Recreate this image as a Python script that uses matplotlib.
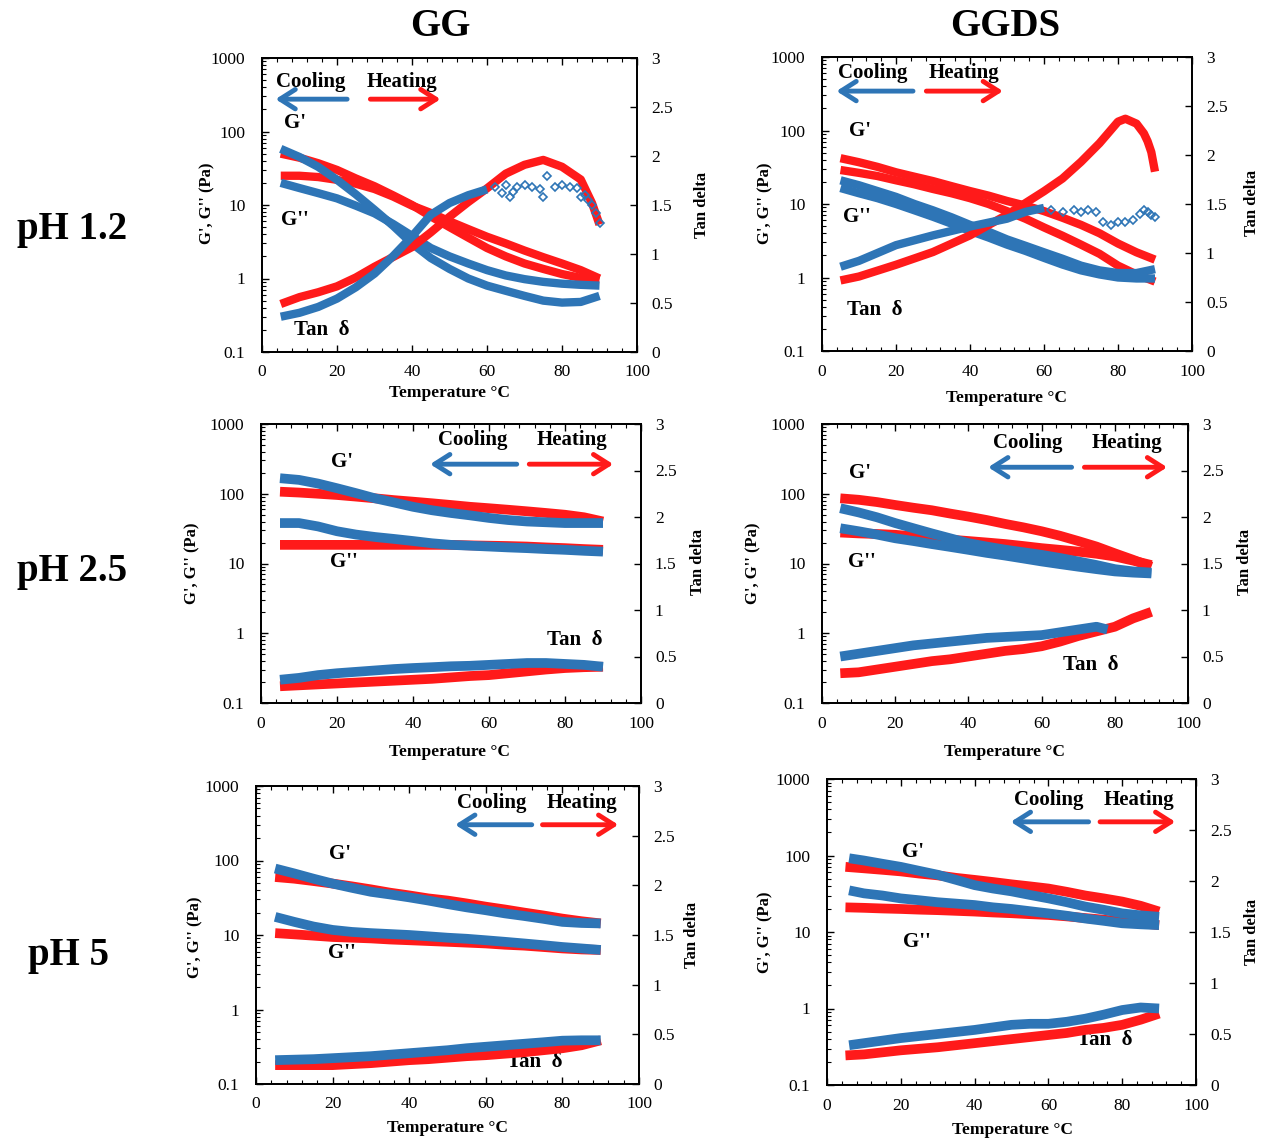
import matplotlib
matplotlib.use("Agg")
import matplotlib.pyplot as plt
from matplotlib.ticker import LogLocator, NullFormatter, MultipleLocator

plt.rcParams['font.family'] = ['Liberation Serif', 'DejaVu Serif']

W, H = 1272, 1142
BLUE = '#2e75b6'
RED = '#ff1a1a'

# ---------------- data ----------------
T = [5, 10, 15, 20, 25, 30, 35, 40, 45, 50, 55, 60, 65, 70, 75, 80, 85, 90]

# GG, pH 1.2
gg12_cool_Gp = [58, 45, 33, 22, 14, 8.6, 5.2, 3.0, 1.9, 1.35, 1.0, 0.8, 0.68, 0.58, 0.5, 0.47, 0.48, 0.58]
gg12_cool_Gpp = [20, 17, 14.5, 12.3, 9.8, 7.7, 5.5, 3.8, 2.6, 2.0, 1.6, 1.3, 1.1, 0.98, 0.9, 0.85, 0.82, 0.8]
gg12_heat_Gp = [50, 44, 37, 30, 23, 18, 13.5, 10, 7.0, 5.0, 3.6, 2.6, 2.0, 1.6, 1.35, 1.15, 1.02, 0.95]
gg12_heat_Gpp = [25, 25, 24, 22, 19.5, 16.5, 13, 9.8, 7.8, 6.0, 4.7, 3.7, 3.0, 2.4, 1.95, 1.6, 1.3, 1.0]
gg12_heat_tan_T = [5, 10, 15, 20, 25, 30, 35, 40, 45, 50, 55, 60, 65, 70, 75, 80, 85, 88, 90]
gg12_heat_tan = [0.49, 0.56, 0.61, 0.67, 0.76, 0.87, 0.97, 1.07, 1.22, 1.38, 1.53, 1.67, 1.82, 1.91, 1.96, 1.89, 1.76, 1.52, 1.30]
gg12_cool_tan_T = [5, 10, 15, 20, 25, 30, 35, 40, 45, 50, 55, 60]
gg12_cool_tan = [0.36, 0.40, 0.46, 0.545, 0.66, 0.80, 0.98, 1.18, 1.40, 1.52, 1.60, 1.66]
gg12_cool_tan_pts_T = [62, 64, 65, 66, 67, 68, 70, 72, 74, 75, 76, 78, 80, 82, 84, 85, 86, 87, 88, 89, 90]
gg12_cool_tan_pts = [1.68, 1.62, 1.70, 1.58, 1.63, 1.68, 1.70, 1.68, 1.66, 1.58, 1.80, 1.68, 1.70, 1.68, 1.67, 1.58, 1.60, 1.55, 1.50, 1.42, 1.32]

# GGDS, pH 1.2
ggds12_heat_Gp = [42, 37, 32, 27, 23.5, 20.5, 17.5, 15, 13, 11, 9.5, 8, 6.5, 5.2, 4, 2.9, 2.2, 1.75]
ggds12_heat_Gpp = [29, 26.5, 24, 21, 18.5, 16, 14, 12, 10, 8, 6.3, 4.8, 3.7, 2.8, 2.1, 1.45, 1.1, 0.88]
ggds12_cool_Gp = [21, 18, 15, 12.5, 10, 8.2, 6.6, 5.2, 4.2, 3.3, 2.7, 2.2, 1.8, 1.45, 1.25, 1.15, 1.15, 1.3]
ggds12_cool_Gpp = [16.5, 14, 12, 10, 8.2, 6.7, 5.4, 4.3, 3.5, 2.8, 2.3, 1.85, 1.5, 1.25, 1.1, 1.0, 0.97, 0.97]
ggds12_heat_tan_T = [5, 10, 20, 30, 40, 50, 55, 60, 65, 70, 75, 80, 82, 85, 87, 88, 89, 90]
ggds12_heat_tan = [0.72, 0.76, 0.88, 1.01, 1.18, 1.39, 1.51, 1.63, 1.76, 1.93, 2.12, 2.34, 2.37, 2.32, 2.22, 2.14, 2.03, 1.83]
ggds12_cool_tan_T = [5, 10, 20, 30, 40, 50, 55, 60]
ggds12_cool_tan = [0.86, 0.92, 1.08, 1.18, 1.27, 1.35, 1.42, 1.46]
ggds12_cool_tan_pts_T = [62, 65, 68, 70, 72, 74, 76, 78, 80, 82, 84, 86, 87, 88, 89, 90]
ggds12_cool_tan_pts = [1.44, 1.42, 1.44, 1.42, 1.44, 1.42, 1.32, 1.29, 1.32, 1.32, 1.34, 1.40, 1.44, 1.42, 1.39, 1.37]

# GG, pH 2.5
gg25_cool_Gp = [167, 158, 140, 120, 102, 86, 75, 65, 58, 53, 49, 45, 42, 40, 39, 38, 38, 38]
gg25_heat_Gp = [107, 104, 100, 96, 91, 86, 81, 77, 73, 69, 65, 62, 59, 56, 53, 50, 46, 40]
gg25_cool_Gpp = [38, 38, 34, 29, 26, 24, 22.5, 21, 19.5, 18.5, 18, 17.5, 17, 16.6, 16.1, 15.7, 15.2, 14.8]
gg25_heat_Gpp = [18.5, 18.5, 18.5, 18.5, 18.5, 18.5, 18.5, 18.5, 18.5, 18.5, 18.2, 18, 17.8, 17.5, 17, 16.6, 16.1, 15.7]
gg25_cool_tan = [0.25, 0.27, 0.30, 0.32, 0.335, 0.35, 0.365, 0.376, 0.385, 0.395, 0.40, 0.41, 0.42, 0.43, 0.43, 0.42, 0.41, 0.39]
gg25_heat_tan = [0.18, 0.19, 0.20, 0.21, 0.22, 0.23, 0.24, 0.25, 0.26, 0.275, 0.29, 0.30, 0.32, 0.34, 0.36, 0.376, 0.385, 0.39]

# GGDS, pH 2.5
ggds25_heat_Gp = [86, 82, 76, 69, 63, 58, 52, 47, 42, 37, 33, 29, 25, 21, 17.5, 14, 11.3, 9]
ggds25_heat_Gpp = [27.8, 27, 26.5, 25.8, 24.5, 23.5, 22, 21, 20, 19, 17.8, 16.6, 15.7, 14.8, 13.8, 12.6, 11, 9.5]
ggds25_cool_Gp = [62, 54, 46, 38, 32, 27, 23, 19.6, 17.5, 15.8, 14.5, 13.3, 12, 10.7, 9.5, 8.3, 7.7, 7.4]
ggds25_cool_Gpp = [32, 29, 26, 23, 21, 19, 17.3, 15.7, 14.2, 13, 11.8, 10.7, 9.8, 9.0, 8.3, 7.7, 7.4, 7.2]
ggds25_cool_tan_T = [5, 10, 15, 20, 25, 30, 35, 40, 45, 50, 55, 60, 65, 70, 75, 78]
ggds25_cool_tan = [0.50, 0.53, 0.56, 0.59, 0.62, 0.64, 0.66, 0.68, 0.70, 0.71, 0.72, 0.73, 0.76, 0.79, 0.82, 0.79]
ggds25_heat_tan = [0.32, 0.33, 0.36, 0.39, 0.42, 0.45, 0.47, 0.50, 0.53, 0.56, 0.58, 0.61, 0.66, 0.72, 0.77, 0.82, 0.91, 0.98]

# GG, pH 5
gg5_cool_Gp = [78, 67, 57, 49, 43, 38, 35, 32, 29, 26, 23.5, 21.5, 19.5, 18, 16.5, 15, 14.5, 14.3]
gg5_heat_Gp = [60, 57, 53, 49, 45, 41, 37, 34, 31, 29, 26.5, 24, 22, 20, 18.3, 16.6, 15.3, 14.3]
gg5_cool_Gpp = [17.5, 15, 13, 11.7, 11, 10.6, 10.3, 10, 9.6, 9.2, 8.9, 8.5, 8.1, 7.7, 7.3, 6.9, 6.6, 6.3]
gg5_heat_Gpp = [10.6, 10.2, 9.8, 9.4, 9.2, 9.0, 8.7, 8.5, 8.3, 8.1, 7.9, 7.7, 7.4, 7.2, 6.9, 6.6, 6.4, 6.3]
gg5_cool_tan = [0.24, 0.245, 0.25, 0.26, 0.27, 0.28, 0.295, 0.31, 0.325, 0.34, 0.36, 0.375, 0.39, 0.405, 0.42, 0.436, 0.44, 0.44]
gg5_heat_tan = [0.19, 0.19, 0.19, 0.19, 0.20, 0.21, 0.225, 0.24, 0.25, 0.265, 0.28, 0.29, 0.305, 0.32, 0.34, 0.36, 0.39, 0.44]

# GGDS, pH 5
ggds5_cool_T = [6, 10, 15, 20, 25, 30, 35, 40, 45, 50, 55, 60, 65, 70, 75, 80, 85, 90]
ggds5_cool_Gp = [92, 86, 78, 71, 63, 56, 48, 41, 37, 34, 30.5, 27.5, 24.5, 21.5, 19.5, 17.5, 16.5, 15.8]
ggds5_heat_Gp = [71, 68, 65, 62, 58, 55, 51, 48, 45, 42, 39.5, 37, 33.5, 30, 27.5, 25, 22, 18.5]
ggds5_cool_Gpp = [35, 32, 30, 27.5, 26, 24.5, 23.5, 22.5, 21, 20, 18.7, 17.5, 16.3, 15, 14, 13, 12.6, 12.3]
ggds5_heat_Gpp = [21, 20.7, 20.3, 20, 19.6, 19.3, 18.9, 18.5, 18, 17.6, 17.1, 16.7, 16, 15.2, 14.5, 13.7, 13, 12.3]
ggds5_cool_tan = [0.39, 0.41, 0.435, 0.46, 0.48, 0.50, 0.52, 0.54, 0.565, 0.59, 0.60, 0.60, 0.62, 0.65, 0.69, 0.735, 0.76, 0.75]
ggds5_heat_tan = [0.29, 0.30, 0.32, 0.34, 0.355, 0.37, 0.39, 0.41, 0.43, 0.45, 0.47, 0.49, 0.51, 0.54, 0.56, 0.59, 0.64, 0.70]

col_titles = ['GG', 'GGDS']
row_titles = ['pH 1.2', 'pH 2.5', 'pH 5']
left_ticks = [0.1, 1, 10, 100, 1000]
left_ticklabels = ['0.1', '1', '10', '100', '1000']
right_ticks = [0, 0.5, 1, 1.5, 2, 2.5, 3]
right_ticklabels = ['0', '0.5', '1', '1.5', '2', '2.5', '3']

# ---------------- layout (pixels) ----------------
panels = [
    dict(rect=(262, 58, 637, 352), xl=(450, 393), yl=(207, 203), rl=(702, 205),
         cool=[(T, gg12_cool_Gp), (T, gg12_cool_Gpp)], heat=[(T, gg12_heat_Gp), (T, gg12_heat_Gpp)],
         cool_tan=(gg12_cool_tan_T, gg12_cool_tan), heat_tan=(gg12_heat_tan_T, gg12_heat_tan),
         pts=(gg12_cool_tan_pts_T, gg12_cool_tan_pts), lw=6,
         cool_txt=(0.129, 0.92), heat_txt=(0.373, 0.92), barr=(0.227, 0.036, 0.86), rarr=(0.289, 0.476, 0.86),
         gp=(0.089, 0.78), gpp=(0.089, 0.449), tan=(0.16, 0.074)),
    dict(rect=(822, 57, 1192, 351), xl=(1007, 398), yl=(765, 203), rl=(1252, 203),
         cool=[(T, ggds12_cool_Gp), (T, ggds12_cool_Gpp)], heat=[(T, ggds12_heat_Gp), (T, ggds12_heat_Gpp)],
         cool_tan=(ggds12_cool_tan_T, ggds12_cool_tan), heat_tan=(ggds12_heat_tan_T, ggds12_heat_tan),
         pts=(ggds12_cool_tan_pts_T, ggds12_cool_tan_pts), lw=6,
         cool_txt=(0.138, 0.946), heat_txt=(0.383, 0.946), barr=(0.246, 0.039, 0.884), rarr=(0.282, 0.489, 0.884),
         gp=(0.102, 0.75), gpp=(0.093, 0.456), tan=(0.142, 0.138)),
    dict(rect=(261, 424, 641, 703), xl=(450, 752), yl=(192, 563), rl=(698, 562),
         cool=[(T, gg25_cool_Gp), (T, gg25_cool_Gpp)], heat=[(T, gg25_heat_Gp), (T, gg25_heat_Gpp)],
         cool_tan=(T, gg25_cool_tan), heat_tan=(T, gg25_heat_tan), pts=None, lw=7,
         cool_txt=(0.556, 0.943), heat_txt=(0.819, 0.943), barr=(0.673, 0.445, 0.856), rarr=(0.706, 0.927, 0.856),
         gp=(0.212, 0.865), gpp=(0.217, 0.507), tan=(0.826, 0.227)),
    dict(rect=(822, 424, 1188, 703), xl=(1005, 752), yl=(753, 563), rl=(1245, 562),
         cool=[(T, ggds25_cool_Gp), (T, ggds25_cool_Gpp)], heat=[(T, ggds25_heat_Gp), (T, ggds25_heat_Gpp)],
         cool_tan=(ggds25_cool_tan_T, ggds25_cool_tan), heat_tan=(T, ggds25_heat_tan), pts=None, lw=7,
         cool_txt=(0.561, 0.931), heat_txt=(0.833, 0.931), barr=(0.682, 0.454, 0.845), rarr=(0.717, 0.943, 0.845),
         gp=(0.103, 0.823), gpp=(0.108, 0.507), tan=(0.733, 0.137)),
    dict(rect=(256, 786, 639, 1084), xl=(448, 1128), yl=(195, 937), rl=(692, 935),
         cool=[(T, gg5_cool_Gp), (T, gg5_cool_Gpp)], heat=[(T, gg5_heat_Gp), (T, gg5_heat_Gpp)],
         cool_tan=(T, gg5_cool_tan), heat_tan=(T, gg5_heat_tan), pts=None, lw=7,
         cool_txt=(0.615, 0.944), heat_txt=(0.85, 0.944), barr=(0.72, 0.52, 0.87), rarr=(0.748, 0.946, 0.87),
         gp=(0.219, 0.773), gpp=(0.224, 0.438), tan=(0.728, 0.075)),
    dict(rect=(827, 779, 1196, 1085), xl=(1012, 1130), yl=(765, 932), rl=(1252, 932),
         cool=[(ggds5_cool_T, ggds5_cool_Gp), (ggds5_cool_T, ggds5_cool_Gpp)],
         heat=[(T, ggds5_heat_Gp), (T, ggds5_heat_Gpp)],
         cool_tan=(ggds5_cool_T, ggds5_cool_tan), heat_tan=(T, ggds5_heat_tan), pts=None, lw=7,
         cool_txt=(0.6, 0.931), heat_txt=(0.846, 0.931), barr=(0.709, 0.498, 0.86), rarr=(0.74, 0.944, 0.86),
         gp=(0.233, 0.763), gpp=(0.243, 0.468), tan=(0.754, 0.147)),
]

fig = plt.figure(figsize=(W / 100, H / 100), dpi=100)


def fx(x):
    return x / W


def fy(y):
    return 1 - y / H


for p in panels:
    x0, y0, x1, y1 = p['rect']
    ax = fig.add_axes([fx(x0), fy(y1), (x1 - x0) / W, (y1 - y0) / H])
    ax2 = ax.twinx()

    ax.set_yscale('log')
    ax.set_ylim(0.1, 1000)
    ax.set_xlim(0, 100)
    ax2.set_ylim(0, 3)

    lw = p['lw']
    for tt, vv in p['heat']:
        ax.plot(tt, vv, color=RED, lw=lw, solid_capstyle='butt')
    for tt, vv in p['cool']:
        ax.plot(tt, vv, color=BLUE, lw=lw, solid_capstyle='butt')
    ax2.plot(p['heat_tan'][0], p['heat_tan'][1], color=RED, lw=lw, solid_capstyle='butt')
    ax2.plot(p['cool_tan'][0], p['cool_tan'][1], color=BLUE, lw=lw, solid_capstyle='butt')
    if p['pts'] is not None:
        ax2.plot(p['pts'][0], p['pts'][1], ls='none', marker='D', ms=4.5, mfc='none', mec=BLUE, mew=1.2)

    ax.set_yticks(left_ticks)
    ax.set_yticklabels(left_ticklabels)
    ax.yaxis.set_minor_locator(LogLocator(base=10, subs=[2, 3, 4, 5, 6, 7, 8, 9], numticks=20))
    ax.yaxis.set_minor_formatter(NullFormatter())
    ax.xaxis.set_major_locator(MultipleLocator(20))
    ax.xaxis.set_minor_locator(MultipleLocator(4))
    ax.tick_params(axis='both', which='both', direction='in', top=True, right=False, labelsize=12.5)
    ax.tick_params(axis='both', which='major', length=5, width=1)
    ax.tick_params(axis='both', which='minor', length=3, width=0.8)
    ax.tick_params(axis='y', which='major', pad=12)
    ax.tick_params(axis='x', which='major', pad=9)

    ax2.set_yticks(right_ticks)
    ax2.set_yticklabels(right_ticklabels)
    ax2.tick_params(axis='y', direction='in', length=5, width=1, labelsize=12.5, pad=10)

    for a in (ax, ax2):
        for s in a.spines.values():
            s.set_linewidth(1.3)

    # axis titles
    fig.text(fx(p['xl'][0]), fy(p['xl'][1]), 'Temperature \u00b0C', ha='center', va='center',
             fontsize=12.5, fontweight='bold')
    fig.text(fx(p['yl'][0]), fy(p['yl'][1]), "G', G'' (Pa)", ha='center', va='center',
             rotation=90, fontsize=12, fontweight='bold')
    fig.text(fx(p['rl'][0]), fy(p['rl'][1]), 'Tan delta', ha='center', va='center',
             rotation=90, fontsize=12, fontweight='bold')

    # in-plot annotations
    tkw = dict(transform=ax.transAxes, ha='center', va='center', fontsize=15, fontweight='bold')
    ax.text(*p['cool_txt'], 'Cooling', **tkw)
    ax.text(*p['heat_txt'], 'Heating', **tkw)
    ax.text(*p['gp'], "G'", **tkw)
    ax.text(*p['gpp'], "G''", **tkw)
    ax.text(*p['tan'], 'Tan  \u03b4', **tkw)
    bx0, bx1, by = p['barr']
    ax.annotate('', xy=(bx1, by), xytext=(bx0, by), xycoords='axes fraction',
                arrowprops=dict(arrowstyle='->,head_length=0.55,head_width=0.35', color=BLUE, lw=3.5,
                                mutation_scale=20, shrinkA=0, shrinkB=0))
    rx0, rx1, ry = p['rarr']
    ax.annotate('', xy=(rx1, ry), xytext=(rx0, ry), xycoords='axes fraction',
                arrowprops=dict(arrowstyle='->,head_length=0.55,head_width=0.35', color=RED, lw=3.5,
                                mutation_scale=20, shrinkA=0, shrinkB=0))

# column and row titles
fig.text(fx(440), fy(27), col_titles[0], ha='center', va='center', fontsize=28, fontweight='bold')
fig.text(fx(1005), fy(27), col_titles[1], ha='center', va='center', fontsize=28, fontweight='bold')
fig.text(fx(72), fy(230), row_titles[0], ha='center', va='center', fontsize=28, fontweight='bold')
fig.text(fx(72), fy(572), row_titles[1], ha='center', va='center', fontsize=28, fontweight='bold')
fig.text(fx(68), fy(955), row_titles[2], ha='center', va='center', fontsize=28, fontweight='bold')

fig.savefig('out.png', dpi=100)
